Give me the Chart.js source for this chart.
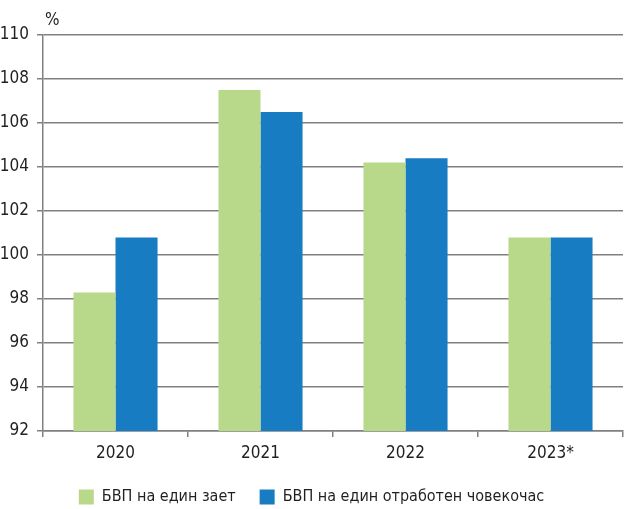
<!DOCTYPE html>
<html>
<head>
<meta charset="utf-8">
<script src="https://cdn.jsdelivr.net/npm/chart.js@4"></script>
<style>
  html, body { margin: 0; padding: 0; background: #fff; }
  #wrap { width: 624px; height: 509px; }
</style>
</head>
<body>
<div id="wrap"><canvas id="chart" width="624" height="509"></canvas></div>
<script>
const years = ["2020", "2021", "2022", "2023*"];
const perEmployed = [98.3, 107.5, 104.2, 100.8];
const perHour = [100.8, 106.5, 104.4, 100.8];
const yTicks = [92, 94, 96, 98, 100, 102, 104, 106, 108, 110];

const fontFam = "'DejaVu Sans Condensed', 'Liberation Sans Narrow', sans-serif";
const gridColor = "#808080";
const textColor = "#231f20";

// "%" над оста
const percentLabel = {
  id: "percentLabel",
  afterDraw(chart) {
    const ctx = chart.ctx;
    const area = chart.chartArea;
    ctx.save();
    ctx.font = "17px " + fontFam;
    ctx.fillStyle = textColor;
    ctx.textAlign = "left";
    ctx.textBaseline = "bottom";
    ctx.fillText("%", area.left + 2, area.top - 6);
    ctx.restore();
  }
};

const chartCanvas = document.querySelector("#chart");

new Chart(chartCanvas, {
  type: "bar",
  data: {
    labels: years,
    datasets: [
      {
        label: "БВП на един зает",
        data: perEmployed,
        backgroundColor: "#b8d98a",
        categoryPercentage: 0.58,
        barPercentage: 1
      },
      {
        label: "БВП на един отработен човекочас",
        data: perHour,
        backgroundColor: "#177cc1",
        categoryPercentage: 0.58,
        barPercentage: 1
      }
    ]
  },
  options: {
    responsive: false,
    animation: false,
    layout: { padding: { top: 35, right: 1, left: 0, bottom: 0 } },
    plugins: {
      tooltip: { enabled: false },
      legend: {
        position: "bottom",
        maxHeight: 44,
        labels: {
          font: { family: fontFam, size: 16 },
          color: textColor,
          boxWidth: 15,
          boxHeight: 15,
          padding: 24
        }
      }
    },
    scales: {
      x: {
        grid: {
          drawOnChartArea: false,
          color: gridColor,
          tickLength: 6,
          lineWidth: 1.5
        },
        border: { color: gridColor, width: 1.5 },
        ticks: {
          font: { family: fontFam, size: 17 },
          color: textColor,
          padding: 6
        },
        afterFit(scale) { scale.height = 34; }
      },
      y: {
        min: 92,
        max: 110,
        afterBuildTicks(scale) {
          scale.ticks = yTicks.map(v => ({ value: v }));
        },
        grid: {
          color: gridColor,
          lineWidth: 1.5,
          tickLength: 6
        },
        border: { color: gridColor, width: 1.5 },
        ticks: {
          font: { family: fontFam, size: 17 },
          color: textColor,
          padding: 8
        },
        afterFit(scale) { scale.width = 43; }
      }
    }
  },
  plugins: [percentLabel]
});
</script>
</body>
</html>
